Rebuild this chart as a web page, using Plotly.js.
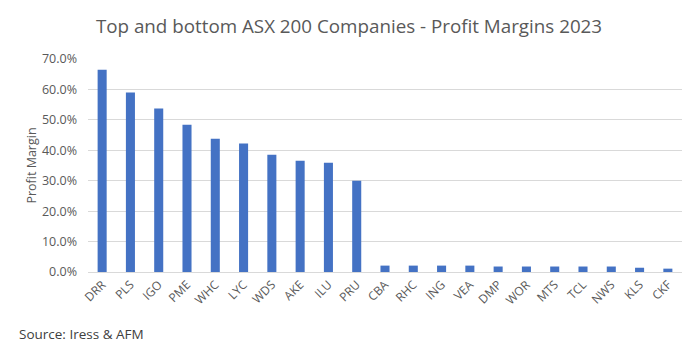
<!DOCTYPE html>
<html><head><meta charset="utf-8">
<script src="https://cdn.plot.ly/plotly-3.0.1.min.js"></script>
<style>html,body{margin:0;padding:0;background:#fff}#chart{width:698px;height:356px}</style>
</head><body><div id="chart"></div>
<script>
const companies = ["DRR","PLS","IGO","PME","WHC","LYC","WDS","AKE","ILU","PRU","CBA","RHC","ING","VEA","DMP","WOR","MTS","TCL","NWS","KLS","CKF"];
const profitMargins = [0.665,0.590,0.537,0.484,0.438,0.422,0.385,0.366,0.359,0.300,0.021,0.021,0.021,0.021,0.018,0.018,0.018,0.018,0.018,0.014,0.011];
const yTickVals = [0,0.1,0.2,0.3,0.4,0.5,0.6,0.7];

const trace = {
  type: 'bar', x: companies, y: profitMargins,
  marker: {color: '#4472C4'}, hoverinfo: 'x+y'
};
const font = "Open Sans, Liberation Sans, sans-serif";
const layout = {
  width: 698, height: 356,
  margin: {l: 88, r: 16, t: 59, b: 84},
  paper_bgcolor: '#fff', plot_bgcolor: '#fff',
  bargap: 0.68,
  showlegend: false,
  title: {text: 'Top and bottom ASX 200 Companies - Profit Margins 2023', font: {family: font, size: 18.8, color: '#595959'}, x: 0.5, xanchor: 'center', y: 0.925, yanchor: 'middle'},
  xaxis: {type: 'category', tickangle: -45, tickfont: {family: font, size: 12, color: '#595959'}, showgrid: false, showline: true, linecolor: '#d9d9d9', linewidth: 1, ticks: '', automargin: false},
  yaxis: {range: [0, 0.7], tickvals: yTickVals, tickformat: '.1%', tickfont: {family: font, size: 12.5, color: '#595959'}, gridcolor: '#d9d9d9', gridwidth: 1, zeroline: false, showline: false, ticks: '', ticklen: 0, ticklabelstandoff: 10, automargin: false,
    title: {text: 'Profit Margin', font: {family: font, size: 12.5, color: '#595959'}, standoff: 2}},
  annotations: [{text: 'Source: Iress &amp; AFM', xref: 'paper', yref: 'paper', x: -0.12, y: -0.29, xanchor: 'left', yanchor: 'middle', showarrow: false, font: {family: font, size: 13.5, color: '#404040'}}]
};
Plotly.newPlot('chart', [trace], layout, {displayModeBar: false, staticPlot: true});
</script></body></html>
